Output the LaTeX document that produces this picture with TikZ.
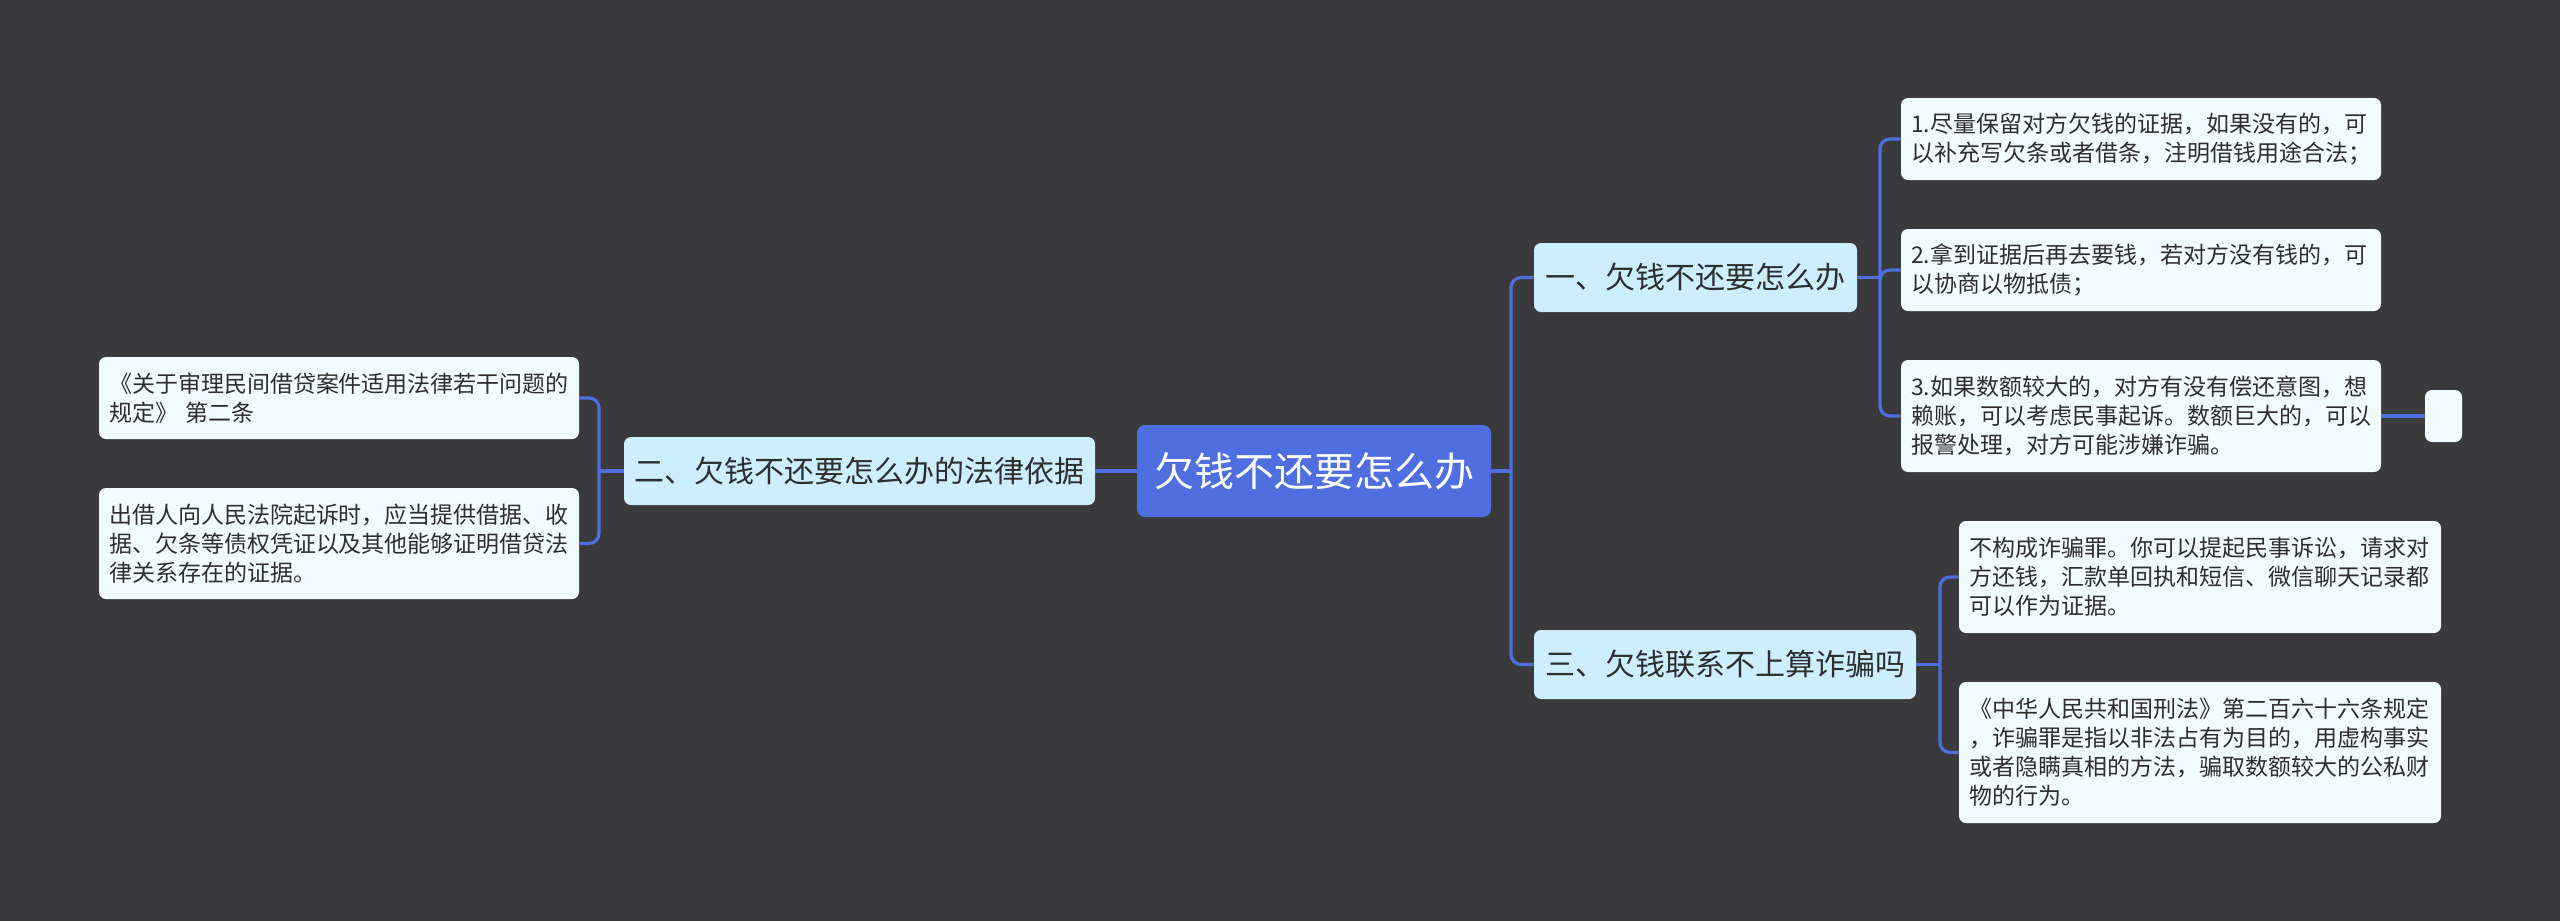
\documentclass[tikz,border=0pt]{standalone}
\usepackage{fontspec}
\setmainfont{Noto Sans CJK SC}
\definecolor{bgc}{HTML}{3A393B}
\definecolor{rootc}{HTML}{4F6FE0}
\definecolor{linec}{HTML}{4F6FE0}
\definecolor{branchc}{HTML}{CCEEFF}
\definecolor{leafc}{HTML}{F0FCFF}
\definecolor{textc}{HTML}{2E2E2E}
\begin{document}
\begin{tikzpicture}[x=0.5pt,y=-0.5pt,
  rootbox/.style={fill=rootc, rounded corners=4pt, text=white, font=\fontsize{20}{24}\selectfont, inner sep=0pt, align=center},
  branchbox/.style={fill=branchc, rounded corners=3.5pt, text=textc, font=\fontsize{15}{18}\selectfont, inner sep=0pt, align=center},
  leafbox/.style={fill=leafc, rounded corners=3.5pt, text=textc, font=\fontsize{11.5}{14.5}\selectfont, inner xsep=5pt, inner ysep=0pt, align=left, text width=230pt},
  conn/.style={draw=linec, line width=1.6pt, rounded corners=5pt}]
\useasboundingbox (0,0) rectangle (2560,921);
\fill[bgc] (0,0) rectangle (2560,921);

% nodes
\node[rootbox, minimum width=177pt, minimum height=46pt] (root) at (1314,471) {欠钱不还要怎么办};
\node[branchbox, minimum width=161.5pt, minimum height=34.5pt] (b1) at (1695.5,277.5) {一、欠钱不还要怎么办};
\node[branchbox, minimum width=235.5pt, minimum height=34pt] (b2) at (859.5,471) {二、欠钱不还要怎么办的法律依据};
\node[branchbox, minimum width=191pt, minimum height=34.5pt] (b3) at (1725,664.5) {三、欠钱联系不上算诈骗吗};

\node[leafbox, minimum height=41pt] (l1) at (2141,139) {1.尽量保留对方欠钱的证据，如果没有的，可\\以补充写欠条或者借条，注明借钱用途合法；};
\node[leafbox, minimum height=41pt] (l2) at (2141,270) {2.拿到证据后再去要钱，若对方没有钱的，可\\以协商以物抵债；};
\node[leafbox, minimum height=56pt] (l3) at (2141,416) {3.如果数额较大的，对方有没有偿还意图，想\\赖账，可以考虑民事起诉。数额巨大的，可以\\报警处理，对方可能涉嫌诈骗。};
\node[fill=leafc, rounded corners=3.5pt, inner sep=0pt, minimum width=18.5pt, minimum height=26pt] (e) at (2443.5,416) {};

\node[leafbox, text width=231pt, minimum height=56pt] (l4) at (2200,577) {不构成诈骗罪。你可以提起民事诉讼，请求对\\方还钱，汇款单回执和短信、微信聊天记录都\\可以作为证据。};
\node[leafbox, text width=231pt, minimum height=70.5pt] (l5) at (2200,752.5) {《中华人民共和国刑法》第二百六十六条规定\\，诈骗罪是指以非法占有为目的，用虚构事实\\或者隐瞒真相的方法，骗取数额较大的公私财\\物的行为。};

\node[leafbox, minimum height=41pt] (m1) at (339,398) {《关于审理民间借贷案件适用法律若干问题的\\规定》 第二条};
\node[leafbox, minimum height=55.5pt] (m2) at (339,543.5) {出借人向人民法院起诉时，应当提供借据、收\\据、欠条等债权凭证以及其他能够证明借贷法\\律关系存在的证据。};

% junctions
\coordinate (j0) at (1511,471);
\coordinate (j1) at (1880,277.5);
\coordinate (j3) at (1940,664.5);
\coordinate (j2) at (599,471);

% connectors
\draw[conn] (root.east) -- (j0);
\draw[conn] (j0) |- (b1.west);
\draw[conn] (j0) |- (b3.west);
\draw[conn] (root.west) -- (b2.east);

\draw[conn] (b1.east) -- (j1);
\draw[conn] (j1) |- (l1.west);
\draw[conn] (j1) |- (l2.west);
\draw[conn] (j1) |- (l3.west);
\draw[conn] (l3.east) -- (e.west);

\draw[conn] (b3.east) -- (j3);
\draw[conn] (j3) |- (l4.west);
\draw[conn] (j3) |- (l5.west);

\draw[conn] (b2.west) -- (j2);
\draw[conn] (j2) |- (m1.east);
\draw[conn] (j2) |- (m2.east);
\end{tikzpicture}
\end{document}
